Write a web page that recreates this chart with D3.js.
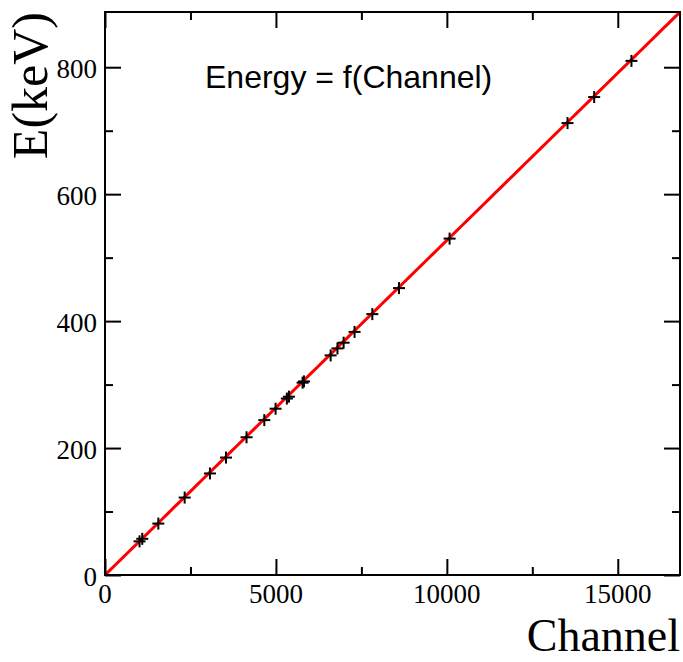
<!DOCTYPE html>
<html>
<head>
<meta charset="utf-8">
<script src="https://cdn.jsdelivr.net/npm/d3@7"></script>
<style>
  html, body { margin: 0; padding: 0; background: #fff; }
  svg { display: block; }
</style>
</head>
<body>
<svg id="chart" width="683" height="662"></svg>
<script>
// ---- data ----
const channels = [1010, 1090, 1560, 2330, 3070, 3540, 4140, 4660, 4990, 5320, 5380, 5780, 5820, 6600, 6800, 6980, 7300, 7820, 8600, 10080, 13530, 14310, 15400];
const energies = [53, 57, 81, 122, 160, 185, 217, 244, 262, 278, 281, 303, 305, 346, 357, 366, 383, 411, 452, 530, 712, 753, 810];
const fitSlope = 0.05273;
const fitIntercept = 0;
const xDomain = [0, 16820];
const yDomain = [0, 887];
const xMajorTicks = [0, 5000, 10000, 15000];
const xMinorTicks = [2500, 7500, 12500];
const yMajorTicks = [0, 200, 400, 600, 800];
const yMinorTicks = [100, 300, 500, 700];
const xTitle = "Channel";
const yTitle = "E(keV)";
const label = "Energy = f(Channel)";

// ---- layout ----
const L = 105, R = 680, T = 12, B = 575;
const svg = d3.select("#chart");
const x = d3.scaleLinear().domain(xDomain).range([L, R]);
const y = d3.scaleLinear().domain(yDomain).range([B, T]);

const serif = "'Liberation Serif', 'Times New Roman', serif";
const sans = "'Liberation Sans', Arial, Helvetica, sans-serif";

// fit line (clipped to frame)
svg.append("defs").append("clipPath").attr("id", "clip")
  .append("rect").attr("x", L).attr("y", T).attr("width", R - L).attr("height", B - T);

const fx = d3.range(0, 101).map(i => xDomain[0] + (xDomain[1] - xDomain[0]) * i / 100);
svg.append("path")
  .attr("clip-path", "url(#clip)")
  .attr("d", d3.line().x(d => x(d)).y(d => y(fitSlope * d + fitIntercept))(fx))
  .attr("fill", "none").attr("stroke", "#ff0000").attr("stroke-width", 3);

// markers
const ms = 6;
const mk = svg.append("g");
channels.forEach((c, i) => {
  const px = x(c), py = y(energies[i]);
  mk.append("line").attr("x1", px - ms).attr("x2", px + ms).attr("y1", py).attr("y2", py)
    .attr("stroke", "#000").attr("stroke-width", 2);
  mk.append("line").attr("x1", px).attr("x2", px).attr("y1", py - ms).attr("y2", py + ms)
    .attr("stroke", "#000").attr("stroke-width", 2);
});

// axes via d3 axis
const bigT = 16, smallT = 8;
function addAxis(axisFn, scale, ticks, size, transform) {
  const g = svg.append("g").attr("transform", transform)
    .call(axisFn(scale).tickValues(ticks).tickSize(size).tickFormat(""));
  g.select(".domain").remove();
  g.selectAll(".tick line").attr("stroke", "#000").attr("stroke-width", 2);
  return g;
}
addAxis(d3.axisTop, x, xMajorTicks, bigT, `translate(0,${B})`);
addAxis(d3.axisTop, x, xMinorTicks, smallT, `translate(0,${B})`);
addAxis(d3.axisBottom, x, xMajorTicks, bigT, `translate(0,${T})`);
addAxis(d3.axisBottom, x, xMinorTicks, smallT, `translate(0,${T})`);
addAxis(d3.axisRight, y, yMajorTicks, bigT, `translate(${L},0)`);
addAxis(d3.axisRight, y, yMinorTicks, smallT, `translate(${L},0)`);
addAxis(d3.axisLeft, y, yMajorTicks, bigT, `translate(${R},0)`);
addAxis(d3.axisLeft, y, yMinorTicks, smallT, `translate(${R},0)`);

// frame
svg.append("rect").attr("x", L).attr("y", T).attr("width", R - L).attr("height", B - T)
  .attr("fill", "none").attr("stroke", "#000").attr("stroke-width", 2);

// tick labels
svg.append("g").selectAll("text").data(xMajorTicks).join("text")
  .attr("x", d => x(d)).attr("y", 603)
  .attr("text-anchor", "middle")
  .attr("font-family", serif).attr("font-size", 27)
  .text(d => d);
svg.append("g").selectAll("text").data(yMajorTicks).join("text")
  .attr("x", 97).attr("y", d => y(d) + 11)
  .attr("text-anchor", "end")
  .attr("font-family", serif).attr("font-size", 27)
  .text(d => d);

// axis titles
svg.append("text").attr("x", R).attr("y", 651).attr("text-anchor", "end")
  .attr("font-family", serif).attr("font-size", 46).text(xTitle);
svg.append("text").attr("transform", `translate(47,${T}) rotate(-90)`)
  .attr("text-anchor", "end")
  .attr("font-family", serif).attr("font-size", 50).text(yTitle);

// label
svg.append("text").attr("x", 205).attr("y", 88)
  .attr("font-family", sans).attr("font-size", 32).text(label);
</script>
</body>
</html>
